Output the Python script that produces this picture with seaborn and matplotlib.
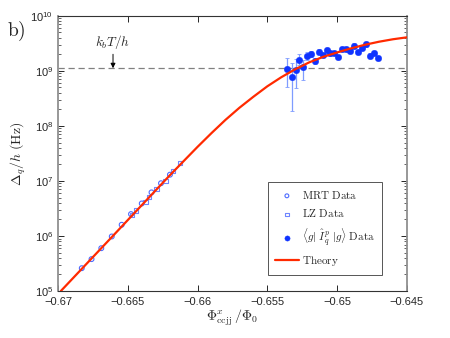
import numpy as np
import matplotlib
matplotlib.use("Agg")
import matplotlib.pyplot as plt
import pandas as pd
import seaborn as sns

# MRT data (open circles)
mrt_x = [-0.6683, -0.6676, -0.6669, -0.66615, -0.66544, -0.66477, -0.6640, -0.6633, -0.66262, -0.66198]
mrt_y = [2.6e5, 3.8e5, 6.0e5, 9.8e5, 1.6e6, 2.5e6, 3.9e6, 6.2e6, 9.1e6, 1.3e7]

# LZ data (open squares)
lz_x = [-0.66470, -0.66441, -0.66372, -0.66346, -0.66293, -0.66229, -0.66174, -0.66126]
lz_y = [2.4e6, 2.9e6, 4.2e6, 5.1e6, 7.1e6, 1.0e7, 1.5e7, 2.1e7]

# <g|Ip|g> data (filled circles) with log10 error half-widths
ip_x = [-0.65357, -0.65326, -0.65297, -0.65271, -0.65243, -0.65214, -0.65188, -0.65159,
        -0.65130, -0.65104, -0.65075, -0.65047, -0.65021, -0.64992, -0.64963, -0.64935,
        -0.64906, -0.64880, -0.64849, -0.64820, -0.64794, -0.64765, -0.64736, -0.64708]
ip_logy = [9.04, 8.885, 9.02, 9.20, 9.07, 9.27, 9.31, 9.18, 9.35, 9.29, 9.38, 9.32,
           9.33, 9.25, 9.40, 9.40, 9.36, 9.46, 9.34, 9.42, 9.48, 9.28, 9.33, 9.24]
ip_err_lo = [0.34, 0.62, 0.33, 0.10, 0.23, 0.07, 0.05, 0.05, 0.04, 0.04, 0.04, 0.04,
             0.04, 0.04, 0.04, 0.04, 0.04, 0.04, 0.04, 0.04, 0.04, 0.04, 0.04, 0.04]
ip_err_hi = [0.19, 0.26, 0.20, 0.10, 0.13, 0.07, 0.05, 0.05, 0.04, 0.04, 0.04, 0.04,
             0.04, 0.04, 0.04, 0.04, 0.04, 0.04, 0.04, 0.04, 0.04, 0.04, 0.04, 0.04]

# theory curve
th_x = [-0.6698, -0.666, -0.662, -0.660, -0.659, -0.658, -0.657, -0.656, -0.655, -0.654,
        -0.653, -0.652, -0.651, -0.650, -0.649, -0.648, -0.647, -0.646, -0.645]
th_logy = [5.00, 6.02, 7.10, 7.62, 7.87, 8.11, 8.33, 8.53, 8.72, 8.885,
           9.03, 9.155, 9.255, 9.335, 9.41, 9.475, 9.53, 9.575, 9.61]

kT_h = 1.12e9

sns.set_style("ticks")
plt.rcParams["font.family"] = ["Liberation Sans", "DejaVu Sans"]
plt.rcParams["xtick.direction"] = "in"
plt.rcParams["ytick.direction"] = "in"

fig = plt.figure(figsize=(4.5, 3.38), dpi=100)
ax = fig.add_axes([0.129, 0.139, 0.775, 0.814])

ip_y = [10 ** v for v in ip_logy]
ylo = [10 ** v - 10 ** (v - e) for v, e in zip(ip_logy, ip_err_lo)]
yhi = [10 ** (v + e) - 10 ** v for v, e in zip(ip_logy, ip_err_hi)]

ax.axhline(kT_h, color="#808080", ls=(0, (5, 3)), lw=0.9, zorder=1)

ax.errorbar(ip_x, ip_y, yerr=[ylo, yhi], fmt="none", ecolor="#7f9cff", elinewidth=0.9,
            capsize=1.2, capthick=0.6, zorder=2)

mrt = pd.DataFrame({"x": mrt_x, "y": mrt_y})
lz = pd.DataFrame({"x": lz_x, "y": lz_y})
ipd = pd.DataFrame({"x": ip_x, "y": ip_y})
th = pd.DataFrame({"x": th_x, "y": [10 ** v for v in th_logy]})

sns.scatterplot(data=mrt, x="x", y="y", ax=ax, marker="o", s=12, facecolor="none",
                edgecolor="#4d6bff", linewidth=0.8, label="MRT", zorder=3)
sns.scatterplot(data=lz, x="x", y="y", ax=ax, marker="s", s=10, facecolor="none",
                edgecolor="#6f86ff", linewidth=0.8, label="LZ", zorder=3)
sns.scatterplot(data=ipd, x="x", y="y", ax=ax, marker="o", s=22, color="#0f33ff",
                edgecolor="#0f33ff", linewidth=0.3, label="IP", zorder=4)
sns.lineplot(data=th, x="x", y="y", ax=ax, color="#ff2a00", lw=1.6, label="Theory",
             zorder=5, sort=False)

ax.set_yscale("log")
ax.set_xlim(-0.67, -0.645)
ax.set_ylim(1e5, 1e10)
ax.set_xticks([-0.67, -0.665, -0.66, -0.655, -0.65, -0.645])
ax.set_xticklabels(["\u22120.67", "\u22120.665", "\u22120.66", "\u22120.655", "\u22120.65", "\u22120.645"])
ax.tick_params(axis="both", which="both", top=True, right=True, labelsize=8)
ax.tick_params(axis="x", pad=4)
ax.tick_params(which="major", length=4, width=0.7)
ax.tick_params(which="minor", length=2, width=0.5)
for s in ["left", "right"]:
    ax.spines[s].set_color("#909090")
    ax.spines[s].set_linewidth(1.3)
for s in ["top", "bottom"]:
    ax.spines[s].set_linewidth(0.8)
    ax.spines[s].set_color("#333333")

ax.set_xlabel(r"$\Phi^x_{\mathrm{ccjj}}\,/\Phi_0$", fontsize=10, math_fontfamily="cm", labelpad=1)
ax.set_ylabel(r"$\Delta_q/h\ \mathrm{(Hz)}$", fontsize=10, math_fontfamily="cm", labelpad=2)

fig.text(0.015, 0.895, r"$\mathrm{b)}$", fontsize=14, math_fontfamily="cm")

ax.annotate(r"$k_bT/h$", xy=(-0.66606, kT_h), xytext=(-0.66606, 2.3e9),
            ha="center", va="bottom", fontsize=9.5, math_fontfamily="cm",
            arrowprops=dict(arrowstyle="-|>", color="black", lw=0.7, mutation_scale=7,
                            shrinkA=0, shrinkB=0))

handles, labels = ax.get_legend_handles_labels()
hmap = dict(zip(labels, handles))
leg = ax.legend([hmap["MRT"], hmap["LZ"], hmap["IP"], hmap["Theory"]],
                [r"$\mathrm{MRT\ Data}$", r"$\mathrm{LZ\ Data}$",
                 r"$\langle g|\ \hat{I}^p_q\ |g\rangle\ \mathrm{Data}$", r"$\mathrm{Theory}$"],
                loc="upper left", bbox_to_anchor=(0.602, 0.396), fontsize=8, frameon=True,
                fancybox=False, edgecolor="#555555", framealpha=1, labelspacing=0.6,
                handlelength=2.2, borderpad=0.6, handletextpad=0.3, borderaxespad=0,
                markerscale=0.8)
leg.get_frame().set_linewidth(0.7)
for t in leg.get_texts():
    t.set_math_fontfamily("cm")

fig.savefig("out.png", dpi=100)
